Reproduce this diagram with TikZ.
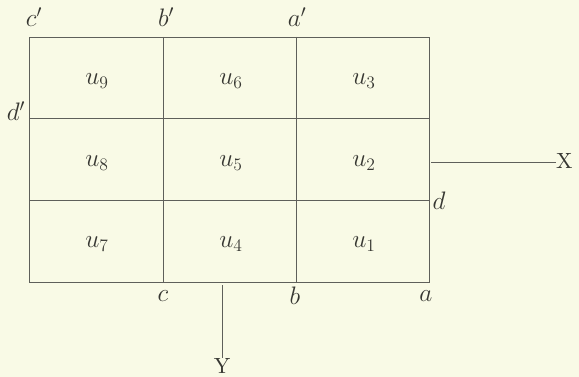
\documentclass[tikz,border=0pt]{standalone}
\definecolor{bgc}{RGB}{249,250,230}
\definecolor{lnc}{RGB}{95,95,90}
\definecolor{txc}{RGB}{55,55,50}
\newcommand{\gridlbl}[1]{\scalebox{1.22}{$#1$}}
\newcommand{\axislbl}[1]{\scalebox{2.2}{\rmfamily #1}}
\begin{document}
\begin{tikzpicture}[x=1pt,y=-1pt,
  ln/.style={draw=lnc,line width=0.9pt},
  lbl/.style={text=txc,font=\fontsize{20.74}{24}\selectfont,inner sep=0pt},
  axl/.style={text=txc,inner sep=0pt},
  cell/.style={text=txc,font=\fontsize{20.74}{24}\selectfont,inner sep=0pt}]
\fill[bgc] (0,0) rectangle (579,377);
\useasboundingbox (0,0) rectangle (579,377);
% grid corners
\coordinate (TL) at (29,37);
\coordinate (TR) at (429,37);
\coordinate (BL) at (29,282);
\coordinate (BR) at (429,282);
\coordinate (v1t) at (163,37); \coordinate (v1b) at (163,282);
\coordinate (v2t) at (296,37); \coordinate (v2b) at (296,282);
\coordinate (h1l) at (29,118); \coordinate (h1r) at (429,118);
\coordinate (h2l) at (29,200); \coordinate (h2r) at (429,200);
\draw[ln] (TL) rectangle (BR);
\draw[ln] (v1t) -- (v1b);
\draw[ln] (v2t) -- (v2b);
\draw[ln] (h1l) -- (h1r);
\draw[ln] (h2l) -- (h2r);
% axes
\node[axl,anchor=west] (X) at (556,161) {\axislbl{X}};
\coordinate (xs) at (431,162);
\draw[ln] (xs) -- (xs -| X.west);
\node[axl,anchor=north] (Y) at (222,358) {\axislbl{Y}};
\coordinate (ys) at (222,285);
\draw[ln] (ys) -- (Y.north);
% corner labels
\node[lbl] (cp) at (34,17) {\gridlbl{c'}};
\node[lbl] (bp) at (166,17) {\gridlbl{b'}};
\node[lbl] (ap) at (297,17) {\gridlbl{a'}};
\node[lbl] (dp) at (16,111) {\gridlbl{d'}};
\node[lbl] (d) at (439,201) {\gridlbl{d}};
\node[lbl] (c) at (163,296) {\gridlbl{c}};
\node[lbl] (b) at (295,296) {\gridlbl{b}};
\node[lbl] (a) at (426,296) {\gridlbl{a}};
% cell labels
\node[cell] (u9) at (97,81) {\gridlbl{u_9}};
\node[cell] (u6) at (231,81) {\gridlbl{u_6}};
\node[cell] (u3) at (364,81) {\gridlbl{u_3}};
\node[cell] (u8) at (97,163) {\gridlbl{u_8}};
\node[cell] (u5) at (231,163) {\gridlbl{u_5}};
\node[cell] (u2) at (364,163) {\gridlbl{u_2}};
\node[cell] (u7) at (97,244) {\gridlbl{u_7}};
\node[cell] (u4) at (231,244) {\gridlbl{u_4}};
\node[cell] (u1) at (364,244) {\gridlbl{u_1}};
\end{tikzpicture}
\end{document}
